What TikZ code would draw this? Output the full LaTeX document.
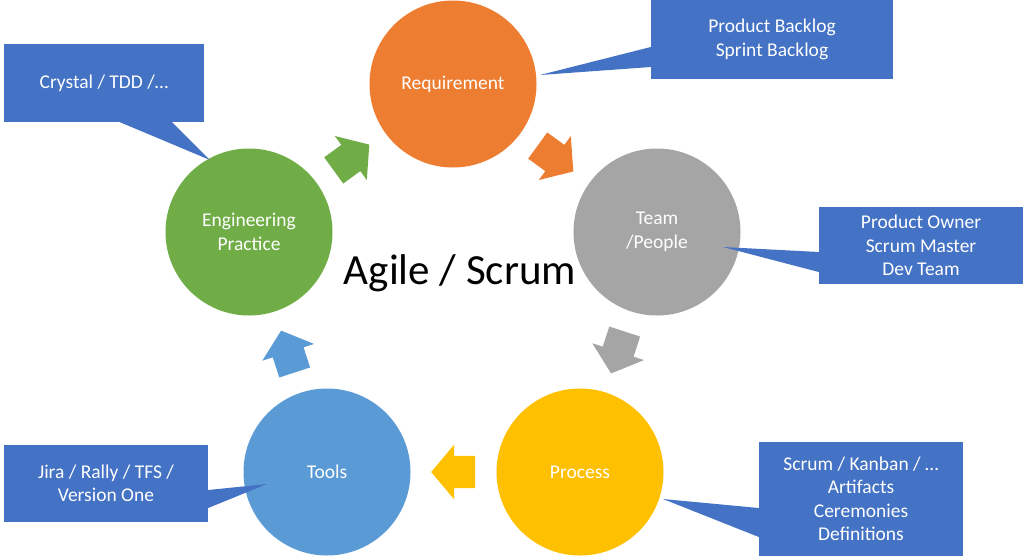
\documentclass[tikz,border=0pt]{standalone}
\usepackage{fontspec}
\setmainfont{Carlito}
\usetikzlibrary{shapes}
\definecolor{reqorange}{HTML}{ED7D31}
\definecolor{teamgray}{HTML}{A5A5A5}
\definecolor{procyellow}{HTML}{FFC000}
\definecolor{toolblue}{HTML}{5B9BD5}
\definecolor{enggreen}{HTML}{70AD47}
\definecolor{noteblue}{HTML}{4472C4}
\tikzstyle{C} = [circle,draw=none,minimum size=167pt,inner sep=0pt,text=white,align=center,font=\fontsize{19.5}{23.5}\selectfont]
\tikzstyle{A} = [single arrow,draw=none,minimum height=44pt,inner xsep=0pt,inner ysep=16pt,single arrow head extend=11pt,single arrow tip angle=100]
\tikzstyle{N} = [rectangle,fill=noteblue,draw=none,text=white,align=center,inner sep=0pt,font=\fontsize{19.5}{23.5}\selectfont]

\begin{document}
\begin{tikzpicture}[x=1pt,y=-1pt]
	\useasboundingbox (0,0) rectangle (1024,558);
	\fill[white] (0,0) rectangle (1024,558);
	
	\node [C,fill=reqorange] (req) at(453,84) {Requirement};
	\node [C,fill=teamgray] (team) at(657,232) {Team\\/People};
	\node [C,fill=procyellow] (proc) at(580,472) {Process};
	\node [C,fill=toolblue] (tools) at(327,472) {Tools};
	\node [C,fill=enggreen] (eng) at(249,232) {Engineering\\Practice};
	%%%%%%%%%%%%%%%
	\node [A,fill=enggreen,rotate=36] (a1) at(346,161.5) {};
	\node [A,fill=reqorange,rotate=-36] (a2) at(550,154.5) {};
	\node [A,fill=teamgray,rotate=-108] (a3) at(620,346) {};
	\node [A,fill=procyellow,rotate=180] (a4) at(460,472) {};
	\node [A,fill=toolblue,rotate=108] (a5) at(290,358) {};
	%%%%%%%%%%%%%%%
	\node [draw=none,anchor=base,font=\fontsize{43}{50}\selectfont] (title) at(460,284) {Agile / Scrum};
	%%%%%%%%%%%%%%%
	\node [N,minimum width=200pt,minimum height=78pt] (n1) at(104,83) {Crystal / TDD /…};
	\coordinate (t1) at (210,160);
	\fill [noteblue] ([xshift=16pt]n1.south) -- (t1) -- ([xshift=68pt]n1.south) -- cycle;
	%----
	\node [N,minimum width=242pt,minimum height=79pt] (n2) at(772,39.5) {Product Backlog\\Sprint Backlog};
	\coordinate (t2) at (540,75);
	\fill [noteblue] ([yshift=-7.5pt]n2.west) -- (t2) -- ([yshift=-27.5pt]n2.west) -- cycle;
	%----
	\node [N,minimum width=204pt,minimum height=77pt] (n3) at(921,245.5) {Product Owner\\Scrum Master\\Dev Team};
	\coordinate (t3) at (723,247);
	\fill [noteblue] ([yshift=-6.5pt]n3.west) -- (t3) -- ([yshift=-26.5pt]n3.west) -- cycle;
	%----
	\node [N,minimum width=204pt,minimum height=114pt] (n4) at(861,499) {Scrum / Kanban / …\\Artifacts\\Ceremonies\\Definitions};
	\coordinate (t4) at (663,499);
	\fill [noteblue] ([yshift=-9pt]n4.west) -- (t4) -- ([yshift=-38pt]n4.west) -- cycle;
	%----
	\node [N,minimum width=204pt,minimum height=77pt] (n5) at(106,483.5) {Jira / Rally / TFS /\\Version One};
	\coordinate (t5) at (267,484);
	\fill [noteblue] ([yshift=-6.5pt]n5.east) -- (t5) -- ([yshift=-24.5pt]n5.east) -- cycle;
	
\end{tikzpicture}
\end{document}
